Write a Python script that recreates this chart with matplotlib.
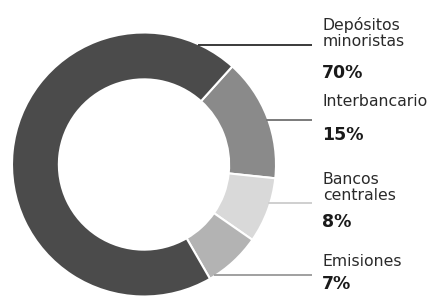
import math
import matplotlib
matplotlib.use("Agg")
import matplotlib.pyplot as plt

labels = ["Interbancario", "Bancos\ncentrales", "Emisiones", "Depósitos\nminoristas"]
values = [15, 8, 7, 70]
pct_labels = ["15%", "8%", "7%", "70%"]
colors = ["#8a8a8a", "#d9d9d9", "#b3b3b3", "#4b4b4b"]
line_colors = ["#7a7a7a", "#cfcfcf", "#a0a0a0", "#3a3a3a"]

W, H = 438, 301
fig = plt.figure(figsize=(W / 100, H / 100), dpi=100)
ax = fig.add_axes([0, 0, 1, 1])

cx, cy, R = 144, H - 164.5, 132
ax.pie(values, colors=colors, startangle=48, counterclock=False,
       center=(cx, cy), radius=R, frame=True,
       wedgeprops=dict(width=R * 0.355, edgecolor="white", linewidth=1.5))
ax.set_xlim(0, W)
ax.set_ylim(0, H)
ax.set_aspect("equal")
ax.axis("off")

# layout in pixels from top
line_y = [120, 203, 275, 45]
name_base = [106, 184, 266, 30]
pct_base = [140, 227, 289, 78]
line_step = 16.5
font = "DejaVu Sans"
for i in range(4):
    yl = H - line_y[i]
    dy = abs(yl - cy)
    x0 = cx + math.sqrt(max(R * R - dy * dy, 0)) - 2
    ax.plot([x0, 312], [yl, yl], color=line_colors[i], lw=1.4, solid_capstyle="butt")
    for k, part in enumerate(labels[i].split("\n")):
        ax.text(323, H - (name_base[i] + k * line_step), part, fontsize=11.3,
                family=font, color="#2a2a2a", va="baseline", ha="left")
    ax.text(322, H - pct_base[i], pct_labels[i], fontsize=12.5, family=font,
            fontweight="bold", color="#1a1a1a", va="baseline", ha="left")

fig.savefig("out.png", dpi=100, facecolor="white")
